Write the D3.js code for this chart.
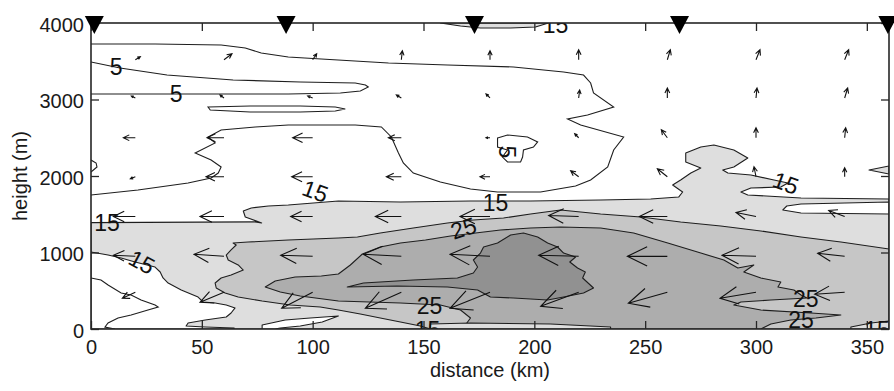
<!DOCTYPE html>
<html>
<head>
<meta charset="utf-8">
<script src="https://cdn.jsdelivr.net/npm/d3@7"></script>
<style>
  body { margin: 0; background: #fff; }
  svg { font-family: "Liberation Sans", Arial, sans-serif; }
</style>
</head>
<body>
<svg id="chart" width="894" height="391"></svg>
<script>
// Axes
const xTicks = [0, 50, 100, 150, 200, 250, 300, 350];
const yTicks = [0, 1000, 2000, 3000, 4000];
const stationKm = [1.5, 88, 173, 265.5, 359.5];

// Wind vectors (m/s), rows top to bottom
const windCols = [20, 60, 100, 140, 180, 220, 260, 300, 340];
const windRows = [3520, 3020, 2500, 1990, 1470, 950, 480];
const windU = [
  [2.5, 4, 2, 0.5, 0, 0, 1.5, 2, 2],
  [-2, -2, -2.5, -2.5, -2, 0.5, 0, 0.5, 1.5],
  [-6, -8.5, -10, -6.5, -2, -2, -3, 0, 0.5],
  [-2.5, -9, -10.5, -7.5, -5, -4, -5, -1, 0],
  [-11, -12, -11, -13, -15, -15, -14, -10, -8],
  [-11, -15, -16, -19, -20, -20, -20, -17, -13.5],
  [-6.5, -12, -15.5, -18, -20, -19, -19.5, -18, -15]
];
const windW = [
  [1.5, 3, 3, 4.5, 4.5, 5, 5, 5, 5],
  [1, 1.5, 1, 1.5, 2, 4, 5, 5, 5],
  [0, 0, 0, 0, 0, 2, 4, 5, 5],
  [-1, 0, 0, 0, 0, 3, 4, 5, 4.5],
  [0, 0, 0, 0, 0, 0.5, 0, 2, 3],
  [0.5, 1, 0.5, 1, 1, 0.5, 0, 0.5, 1.5],
  [-3, -5, -8, -8, -8, -7, -5.5, -3, -1]
];

// Wind speed contours [km, m]
// 15 m/s edge (top of the shaded layer)
const contour15Top = [[0,1390],[74,1400],[77,1386],[69.6,1464],[68.7,1542],[72.3,1582],[80,1608],[89,1621],[111.6,1673],[139.6,1660],[171.2,1673],[198.3,1673],[229.9,1686],[252.5,1699],[265.1,1725],[266.9,1791],[262.4,1882],[266,1948],[270.6,2039],[275.1,2105],[268.3,2183],[268.3,2301],[275.1,2379],[281,2405],[290,2340],[296.3,2235],[290,2118],[285,2078],[287.3,2039],[297.7,2013],[308.1,1948],[314.4,1909],[311.2,1856],[297.7,1843],[293.2,1791],[296.3,1752],[320.3,1712],[360,1699]];
const below15Left = [[0,1007],[7.7,967],[13.6,928],[19.9,876],[28.9,810],[31.2,745],[32.5,667],[34.8,601],[40.7,510],[48.3,418],[50.6,353],[56,340],[61,314],[65,275],[63.2,209],[61,157],[51.5,118],[43.8,78],[42.9,39],[51.5,26],[64.6,13],[64.6,0],[0,0]];
const below15Mid = [[77.2,0],[77.2,52],[87.6,118],[98.9,144],[111.6,170],[104.3,92],[94.4,39],[85.4,13],[83,0]];
const below15Right = [[360,1660],[320.3,1634],[313.9,1608],[312.1,1556],[320.3,1516],[360,1503]];
const contour25 = [[64.1,1124],[70.9,1137],[89,1163],[111.6,1190],[120.2,1203],[130.5,1255],[145.4,1320],[160.8,1386],[172.5,1425],[186.1,1451],[198.3,1503],[211.8,1556],[220.9,1529],[229.9,1503],[248,1464],[266,1399],[284.1,1346],[302.2,1281],[320.3,1203],[338.3,1137],[360,1046],[360,0],[153.1,0],[148.6,39],[139.6,92],[130.5,144],[121.5,196],[111.6,248],[103.4,288],[89.9,314],[77.2,366],[66.4,418],[60.5,471],[56.5,536],[56,601],[58.7,667],[63.2,706],[68.7,771],[66.4,837],[61.9,902],[61,967],[63.2,1033],[65.5,1098]];
const contour35 = [[78.6,549],[83.1,627],[92.1,680],[103.9,693],[111.6,719],[117,837],[122.4,980],[130.5,1072],[139.6,1124],[150.9,1163],[162.2,1216],[173.5,1255],[184.7,1294],[198.3,1320],[211.8,1333],[229.9,1320],[244.8,1255],[260.2,1124],[275.1,993],[285.5,902],[291.8,797],[299,837],[294.5,745],[302.2,667],[311.2,614],[309.9,549],[317.1,510],[320.3,444],[323,405],[306.7,379],[293.2,353],[290,314],[302.2,248],[324.8,209],[338.3,183],[327,144],[315.7,118],[306.7,65],[302.2,0],[175.7,0],[168.9,52],[171.2,144],[166.7,248],[157.6,314],[139.6,340],[111.6,366],[94.4,431],[85.4,484]];
const contour45 = [[115.6,549],[122.9,601],[145.4,641],[165.3,667],[172.5,732],[174.4,810],[172.5,902],[175.7,993],[177.1,1072],[183.4,1124],[189.3,1229],[195.1,1255],[201.5,1203],[206,1124],[210.5,1072],[213.2,993],[218.6,941],[216,876],[219.5,797],[223,745],[221.8,667],[226.7,536],[222.2,471],[213.2,418],[206,379],[190.6,405],[180.2,418],[174.4,510],[160.8,549],[138.2,562]];
const above15Top = [[157.6,4000],[166.7,3961],[175.7,3935],[189.3,3935],[200.5,3948],[206.4,4000]];
const above15Bottom = [[153.1,0],[153.1,65],[171.2,78],[207.3,65],[234.4,26],[234.4,0]];
const above15Edge = [[360,2131],[351,2078],[360,2026]];
const above15Corner = [[342.8,0],[342.8,26],[351.9,78],[360,105],[360,0]];

// unfilled contours in the weak-wind layer
const contour5Outer = [[0,1752],[21.2,1817],[43.8,1909],[54.2,1974],[57.4,2039],[58.7,2118],[54.2,2209],[47,2301],[56,2432],[52.8,2510],[58.7,2601],[74.1,2641],[89,2667],[103.9,2667],[119.2,2667],[131,2641],[135.5,2510],[138.7,2301],[140.9,2170],[145.4,2039],[157.6,1922],[171.2,1830],[183.4,1791],[202.8,1791],[218.6,1869],[225.4,1948],[233.1,2118],[235.8,2340],[240.3,2510],[220.9,2667],[215,2745],[224,2797],[235.8,2902],[226.7,3085],[225.4,3216],[222.2,3320],[213.2,3359],[190.6,3425],[160.8,3451],[134.2,3477],[103.9,3529],[89,3556],[76.8,3608],[69.6,3673],[58.7,3712],[28.9,3726],[0,3726]];
const contour5Tongue = [[0,3490],[13.1,3412],[34.3,3320],[64.1,3255],[94.4,3229],[119.2,3216],[123.8,3190],[125.1,3163],[121.5,3111],[112.5,3085],[89,3072],[58.7,3072],[0,3072]];
const contour5Sliver = [[52.8,2902],[71.8,2915],[94.4,2915],[110.2,2902],[114.7,2876],[110.2,2850],[94.4,2837],[71.8,2837],[53.8,2863]];
const contour5Loop = [[183.4,2497],[187.9,2536],[196.9,2510],[201.5,2445],[199.6,2379],[195.1,2340],[194.7,2248],[193.8,2183],[187.9,2183],[185.6,2248],[187.9,2340],[183.4,2379]];
const contour5Edge = [[0,2209],[2.3,2170],[2.7,2118],[0,2052]];
const contourLow = [[0,667],[4.5,641],[7.7,575],[13.6,471],[18.1,444],[22.6,379],[28.9,314],[30.3,288],[25.7,248],[18.1,183],[12.2,144],[7.7,78],[6.3,26],[10.8,0]];

// contour labels [km, m, text, angle]
const contourLabels = [
  [7.2, 1386, "15", 0], [23, 876, "15", 28], [101.2, 1804, "15", 20],
  [182.5, 1647, "15", 0], [168, 1320, "25", -18], [152.7, 301, "25", 0],
  [151.8, -15, "15", 0], [313.5, 1909, "15", 20], [322.5, 392, "25", 0],
  [320.3, 118, "25", 0], [354.6, -5, "15", 0], [11.3, 3425, "5", 0],
  [38.4, 3072, "5", 0], [187.9, 2314, "5", 90], [209.6, 3975, "15", 0]
];

const shades = { light: "#dedede", mid: "#c6c6c6", dark: "#adadad", darkest: "#919191" };

const svg = d3.select("#chart");
const margin = { top: 23, right: 5, bottom: 62, left: 91 };
const width = 894 - margin.left - margin.right;
const height = 391 - margin.top - margin.bottom;

const x = d3.scaleLinear().domain([0, 360]).range([0, width]);
const y = d3.scaleLinear().domain([0, 4000]).range([height, 0]);
const arrowLen = d3.scaleLinear().domain([0, 1]).range([0, 2]);

svg.append("defs").append("clipPath").attr("id", "plotClip")
  .append("rect").attr("width", width).attr("height", height);

const g = svg.append("g").attr("transform", `translate(${margin.left},${margin.top})`);
const plot = g.append("g").attr("clip-path", "url(#plotClip)");

const closed = d3.line().x(d => x(d[0])).y(d => y(d[1])).curve(d3.curveLinearClosed);
const open = d3.line().x(d => x(d[0])).y(d => y(d[1]));

const fills = [
  [contour15Top.concat([[360, 0], [0, 0]]), shades.light],
  [below15Left, "#fff"],
  [below15Mid, "#fff"],
  [below15Right, "#fff"],
  [contour25, shades.mid],
  [contour35, shades.dark],
  [contour45, shades.darkest],
  [above15Top, shades.light],
  [above15Bottom, shades.light],
  [above15Edge, shades.light],
  [above15Corner, shades.light]
];

plot.selectAll("path.fill")
  .data(fills)
  .join("path")
  .attr("class", "fill")
  .attr("d", d => closed(d[0]))
  .attr("fill", d => d[1])
  .attr("stroke", "#1e1e1e")
  .attr("stroke-width", 1.1)
  .attr("stroke-linejoin", "round");

plot.selectAll("path.line")
  .data([contour5Outer, contour5Tongue, contour5Edge, contourLow])
  .join("path")
  .attr("class", "line")
  .attr("d", d => open(d))
  .attr("fill", "none")
  .attr("stroke", "#1e1e1e")
  .attr("stroke-width", 1.1);

plot.selectAll("path.loop")
  .data([contour5Sliver, contour5Loop])
  .join("path")
  .attr("class", "loop")
  .attr("d", d => closed(d))
  .attr("fill", "none")
  .attr("stroke", "#1e1e1e")
  .attr("stroke-width", 1.1);

// quiver
const arrows = [];
windRows.forEach((h, r) => {
  windCols.forEach((km, c) => {
    arrows.push({ km, h, u: windU[r][c], w: windW[r][c] });
  });
});

function arrowPath(d) {
  const x0 = x(d.km), y0 = y(d.h);
  const dx = arrowLen(d.u), dy = -arrowLen(d.w);
  const len = Math.hypot(dx, dy);
  const hx = x0 + dx, hy = y0 + dy;
  const ang = Math.atan2(dy, dx);
  const bl = len * 0.55, spread = 0.45;
  const b1x = hx - bl * Math.cos(ang - spread), b1y = hy - bl * Math.sin(ang - spread);
  const b2x = hx - bl * Math.cos(ang + spread), b2y = hy - bl * Math.sin(ang + spread);
  return `M${x0},${y0}L${hx},${hy}M${b1x},${b1y}L${hx},${hy}L${b2x},${b2y}`;
}

plot.selectAll("path.arrow")
  .data(arrows)
  .join("path")
  .attr("class", "arrow")
  .attr("d", arrowPath)
  .attr("fill", "none")
  .attr("stroke", "#111")
  .attr("stroke-width", 1.1);

plot.selectAll("text.clabel")
  .data(contourLabels)
  .join("text")
  .attr("class", "clabel")
  .attr("transform", d => `translate(${x(d[0])},${y(d[1])}) rotate(${d[3]})`)
  .attr("text-anchor", "middle")
  .attr("dy", "0.36em")
  .attr("font-size", 23)
  .attr("fill", "#111")
  .text(d => d[2]);

// axes, ticks pointing inward on all sides
const axisStyle = sel => {
  sel.select(".domain").remove();
  sel.attr("font-family", null).attr("font-size", null);
  sel.selectAll("line").attr("stroke", "#262626").attr("stroke-width", 1.3);
  sel.selectAll("text").attr("font-size", 20).attr("fill", "#1a1a1a");
};

g.append("g").attr("transform", `translate(0,${height})`)
  .call(d3.axisBottom(x).tickValues(xTicks).tickFormat(d3.format("d")).tickSizeInner(-8).tickSizeOuter(0).tickPadding(11))
  .call(axisStyle);
g.append("g")
  .call(d3.axisTop(x).tickValues(xTicks).tickSizeInner(-8).tickSizeOuter(0).tickFormat(""))
  .call(axisStyle);
g.append("g")
  .call(d3.axisLeft(y).tickValues(yTicks).tickFormat(d3.format("d")).tickSizeInner(-8).tickSizeOuter(0).tickPadding(7))
  .call(axisStyle)
  .selectAll("text").attr("dy", "0.42em");
g.append("g").attr("transform", `translate(${width},0)`)
  .call(d3.axisRight(y).tickValues(yTicks).tickSizeInner(-8).tickSizeOuter(0).tickFormat(""))
  .call(axisStyle);

g.append("rect")
  .attr("width", width).attr("height", height)
  .attr("fill", "none").attr("stroke", "#262626").attr("stroke-width", 1.6);

// stations
g.selectAll("path.station")
  .data(stationKm)
  .join("path")
  .attr("class", "station")
  .attr("d", d => `M${x(d) - 9.5},${y(4000) - 7}L${x(d) + 9.5},${y(4000) - 7}L${x(d)},${y(4000) + 11}Z`)
  .attr("fill", "#000");

g.append("text")
  .attr("x", width / 2).attr("y", height + 48)
  .attr("text-anchor", "middle").attr("font-size", 20).attr("fill", "#1a1a1a")
  .text("distance (km)");

g.append("text")
  .attr("transform", `translate(${27 - margin.left},${height / 2}) rotate(-90)`)
  .attr("text-anchor", "middle").attr("font-size", 20).attr("fill", "#1a1a1a")
  .text("height (m)");
</script>
</body>
</html>
